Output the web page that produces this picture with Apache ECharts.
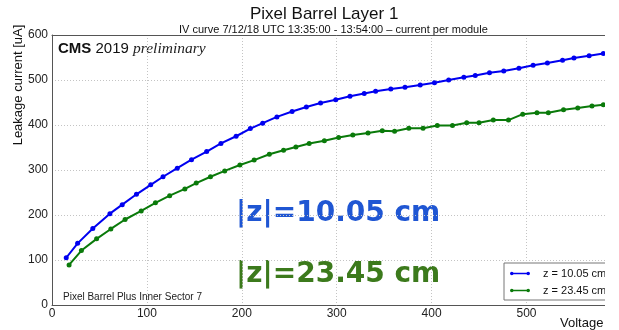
<!DOCTYPE html>
<html>
<head>
<meta charset="utf-8">
<script src="https://cdn.jsdelivr.net/npm/echarts@6/dist/echarts.min.js"></script>
<style>
  html, body { margin: 0; padding: 0; background: #fff; }
  #frame { width: 605px; height: 330px; overflow: hidden; position: relative; }
  #chart { width: 700px; height: 330px; }
</style>
</head>
<body>
<div id="frame"><div id="chart"></div></div>
<script>
// IV scan, Pixel Barrel Layer 1, two module positions
const voltsZ10 = [15, 27, 43, 61, 74, 89, 104, 117, 132, 147, 163, 178, 194, 209, 222, 237, 253, 268, 283, 299,
                  314, 329, 341, 357, 372, 388, 403, 418, 434, 446, 461, 476, 492, 507, 522, 538, 550, 566, 581];
const currentZ10 = [105, 137, 170, 203, 223, 246, 267, 285, 304, 323, 341, 359, 375, 392, 404, 418, 430, 440, 449, 456,
                    464, 470, 475, 480, 484, 489, 494, 500, 506, 510, 516, 520, 526, 533, 538, 544, 549, 554, 559];
const voltsZ23 = [18, 31, 47, 62, 77, 94, 109, 124, 140, 152, 167, 182, 198, 213, 229, 244, 257, 271, 287, 302,
                  317, 333, 348, 361, 376, 391, 406, 422, 437, 450, 465, 481, 496, 511, 523, 539, 554, 569, 581];
const currentZ23 = [89, 121, 147, 169, 190, 209, 227, 243, 258, 271, 285, 298, 311, 322, 335, 344, 351, 359, 365, 372,
                    378, 382, 387, 386, 393, 393, 399, 399, 405, 405, 411, 411, 424, 427, 427, 434, 438, 442, 445];
const seriesNames = ['z = 10.05 cm', 'z = 23.45 cm'];
const yTicks = [0, 100, 200, 300, 400, 500, 600];
const xTicks = [0, 100, 200, 300, 400, 500, 600];

const pairs = (xs, ys) => xs.map((x, i) => [x, ys[i]]);

const gridLine = { show: true, lineStyle: { color: '#c4c4c4', type: [1, 2], width: 1 } };
const axisFont = { fontFamily: 'Liberation Sans', fontSize: 12, color: '#222' };
// legend icon: short line with a dot at each end
const legendIcon = 'path://M1.8,0A1.8,1.8 0 1,1 1.79,0ZM18.2,0A1.8,1.8 0 1,1 18.19,0ZM1.8,1.05L18.2,1.05L18.2,2.55L1.8,2.55Z';

const chart = echarts.init(document.getElementById('chart'), null, { renderer: 'canvas' });
chart.setOption({
  animation: false,
  backgroundColor: '#fff',
  title: [
    { text: 'Pixel Barrel Layer 1', left: 250, top: 6, padding: 0,
      textStyle: { fontFamily: 'Liberation Sans', fontSize: 17, fontWeight: 'normal', color: '#111' } },
    { text: 'IV curve 7/12/18 UTC 13:35:00 - 13:54:00 \u2013 current per module', left: 179, top: 24.5, padding: 0,
      textStyle: { fontFamily: 'Liberation Sans', fontSize: 11, fontWeight: 'normal', color: '#111' } }
  ],
  grid: { left: 52, top: 35, width: 569.4, height: 270, containLabel: false },
  legend: {
    orient: 'vertical', left: 504, top: 263, padding: [5, 40, 4, 6], itemGap: 6,
    itemWidth: 20, itemHeight: 4, icon: legendIcon,
    borderColor: '#777', borderWidth: 1, backgroundColor: '#fff',
    textStyle: { fontFamily: 'Liberation Sans', fontSize: 11, color: '#111', padding: [0, 0, 0, 8] },
    data: seriesNames
  },
  xAxis: [
    { type: 'value', min: xTicks[0], max: xTicks[xTicks.length - 1], interval: 100,
      axisLine: { show: true, lineStyle: { color: '#555', width: 1 } },
      axisTick: { show: false }, splitLine: gridLine,
      axisLabel: Object.assign({ margin: 3 }, axisFont) },
    { type: 'value', position: 'top', min: xTicks[0], max: xTicks[xTicks.length - 1],
      axisLine: { show: true, onZero: false, lineStyle: { color: '#555', width: 1 } },
      axisTick: { show: false }, axisLabel: { show: false }, splitLine: { show: false } }
  ],
  yAxis: {
    type: 'value', min: yTicks[0], max: yTicks[yTicks.length - 1], interval: 100,
    axisLine: { show: true, lineStyle: { color: '#555', width: 1 } },
    axisTick: { show: false }, splitLine: gridLine,
    axisLabel: Object.assign({ margin: 4 }, axisFont)
  },
  series: [
    { name: seriesNames[0], type: 'line', data: pairs(voltsZ10, currentZ10),
      symbol: 'circle', symbolSize: 5, color: '#0000f0',
      lineStyle: { width: 2, color: '#0000f0' }, itemStyle: { color: '#0000f0' } },
    { name: seriesNames[1], type: 'line', data: pairs(voltsZ23, currentZ23),
      symbol: 'circle', symbolSize: 5, color: '#0a7a0a',
      lineStyle: { width: 2, color: '#0a7a0a' }, itemStyle: { color: '#0a7a0a' } }
  ],
  graphic: [
    { type: 'text', left: 58, top: 41, silent: true,
      style: { text: '{b|CMS} 2019 {i|preliminary}', fill: '#111', font: '15px "Liberation Sans"',
        rich: {
          b: { fontFamily: 'Liberation Sans', fontWeight: 'bold', fontSize: 15, fill: '#111' },
          i: { fontFamily: 'Liberation Serif', fontStyle: 'italic', fontSize: 15.5, fill: '#222' }
        } } },
    { type: 'text', left: 63, top: 292, silent: true,
      style: { text: 'Pixel Barrel Plus Inner Sector 7', fill: '#222', font: '10px "Liberation Sans"' } },
    { type: 'text', left: 236, top: 200, silent: true,
      style: { text: '|z|=10.05 cm', fill: '#1f56d3', font: 'bold 28px "DejaVu Sans"' } },
    { type: 'text', left: 236, top: 261, silent: true,
      style: { text: '|z|=23.45 cm', fill: '#3c7a1c', font: 'bold 28px "DejaVu Sans"' } },
    { type: 'text', x: 18, y: 85, rotation: Math.PI / 2, silent: true,
      style: { text: 'Leakage current [uA]', fill: '#111', font: '13px "Liberation Sans"',
        align: 'center', verticalAlign: 'middle' } },
    { type: 'text', left: 560, top: 317, silent: true,
      style: { text: 'Voltage [V]', fill: '#111', font: '13px "Liberation Sans"' } }
  ]
});
</script>
</body>
</html>
